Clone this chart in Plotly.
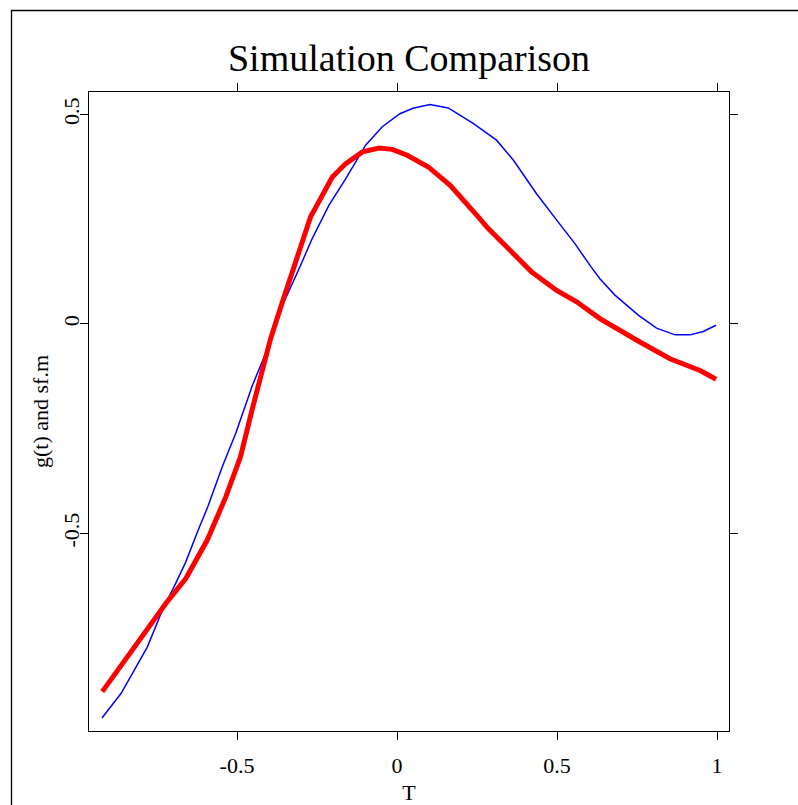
import plotly.graph_objects as go

# Blue curve: g(t)
t_g = [-0.922, -0.862, -0.780, -0.733, -0.692, -0.660, -0.619, -0.591, -0.546, -0.504,
       -0.468, -0.452, -0.400, -0.353, -0.306, -0.265, -0.2125, -0.160, -0.098, -0.046,
       0.009, 0.05, 0.103, 0.160, 0.238, 0.311, 0.364, 0.405, 0.436, 0.499,
       0.556, 0.603, 0.634, 0.681, 0.754, 0.811, 0.869, 0.916, 0.957, 0.997]
g_vals = [-0.941, -0.882, -0.771, -0.683, -0.620, -0.568, -0.488, -0.436, -0.341, -0.261,
          -0.182, -0.147, -0.051, 0.053, 0.132, 0.204, 0.284, 0.347, 0.427, 0.471,
          0.502, 0.515, 0.524, 0.516, 0.479, 0.439, 0.391, 0.347, 0.311, 0.248,
          0.192, 0.140, 0.108, 0.069, 0.021, -0.010, -0.026, -0.026, -0.018, -0.003]

# Red curve: sf.m
t_sf = [-0.921, -0.864, -0.780, -0.718, -0.660, -0.593, -0.535, -0.489, -0.452, -0.395,
        -0.358, -0.317, -0.270, -0.202, -0.160, -0.108, -0.056, -0.015, 0.009, 0.032,
        0.098, 0.166, 0.249, 0.285, 0.3375, 0.421, 0.499, 0.5615, 0.634, 0.676,
        0.759, 0.853, 0.947, 0.997]
sf_vals = [-0.878, -0.819, -0.731, -0.663, -0.608, -0.516, -0.413, -0.317, -0.202, -0.035,
           0.053, 0.148, 0.256, 0.351, 0.383, 0.411, 0.420, 0.417, 0.411, 0.403,
           0.375, 0.331, 0.260, 0.228, 0.188, 0.124, 0.080, 0.053, 0.013, -0.007,
           -0.043, -0.083, -0.111, -0.132]

x_ticks = [-0.5, 0, 0.5, 1]
x_tick_labels = ["-0.5", "0", "0.5", "1"]
y_ticks = [-0.5, 0, 0.5]
y_tick_labels = ["-0.5", "0", "0.5"]

FONT = "Liberation Serif"

fig = go.Figure()
fig.add_trace(go.Scatter(x=t_g, y=g_vals, mode="lines",
                         line=dict(color="#0000ff", width=1.5), showlegend=False))
fig.add_trace(go.Scatter(x=t_sf, y=sf_vals, mode="lines",
                         line=dict(color="#ff0000", width=5), showlegend=False))

axis_common = dict(
    showgrid=False, zeroline=False, showline=True, linecolor="black", linewidth=1,
    mirror="ticks", ticks="outside", ticklen=8, tickwidth=1, tickcolor="black",
    tickfont=dict(family=FONT, size=22, color="black"), automargin=False,
)

fig.update_layout(
    width=798, height=805,
    margin=dict(l=89, r=69, t=92, b=74, autoexpand=False),
    paper_bgcolor="white", plot_bgcolor="white",
    font=dict(family=FONT, color="black"),
    title=dict(text="Simulation Comparison", x=0.5, xref="paper", xanchor="center",
               y=1 - 58 / 805, yref="container", yanchor="middle", automargin=False,
               font=dict(family=FONT, size=38, color="black")),
    xaxis=dict(range=[-0.9625, 1.0375], tickvals=x_ticks, ticktext=x_tick_labels,
               ticklabelstandoff=7,
               title=dict(text="T", font=dict(family=FONT, size=22, color="black"), standoff=9),
               **axis_common),
    yaxis=dict(range=[-0.972, 0.554], tickvals=y_ticks, ticktext=y_tick_labels, tickangle=-90,
               ticklabelstandoff=-8,
               title=dict(text="g(t) and sf.m", font=dict(family=FONT, size=22, color="black"), standoff=4),
               **axis_common),
    shapes=[dict(type="rect", xref="paper", yref="paper",
                 x0=(11.5 - 89) / 640, x1=(810 - 89) / 640,
                 y0=(731 - 815) / 639, y1=(731 - 10.5) / 639,
                 line=dict(color="black", width=1.3), fillcolor="rgba(0,0,0,0)",
                 layer="below")],
)

fig.write_html("out.html", config={"displayModeBar": False},
               post_script="document.body.style.margin='0';document.body.style.overflow='hidden';")
